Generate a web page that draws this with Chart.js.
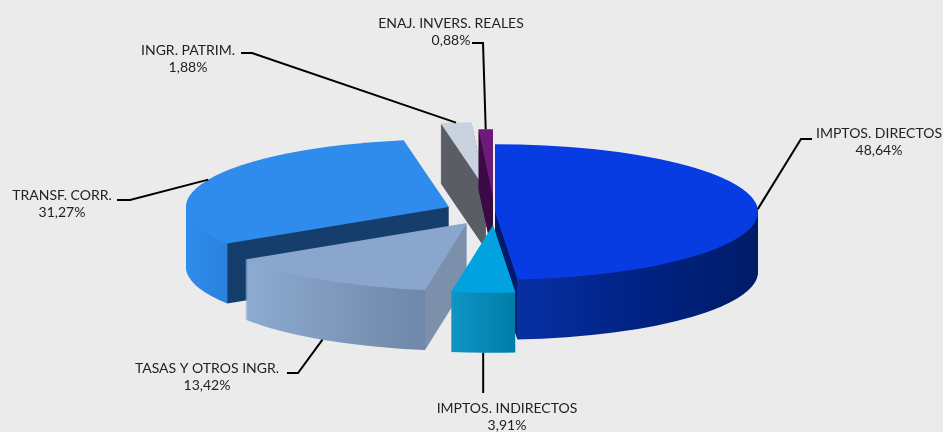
<!DOCTYPE html>
<html>
<head>
<meta charset="utf-8">
<style>
  html, body { margin: 0; padding: 0; background: #ebebeb; overflow: hidden; }
  canvas { display: block; }
</style>
</head>
<body>
<canvas id="chart" width="943" height="432"></canvas>
<script src="https://cdn.jsdelivr.net/npm/chart.js@4/dist/chart.umd.js"></script>
<script>
// datos del grafico
const categories = ['IMPTOS. DIRECTOS', 'IMPTOS. INDIRECTOS', 'TASAS Y OTROS INGR.', 'TRANSF. CORR.', 'INGR. PATRIM.', 'ENAJ. INVERS. REALES'];
const shares = [48.64, 3.91, 13.42, 31.27, 1.88, 0.88];

// colores de cada porcion
const topColors = ['#073ce2', '#00a3e0', '#8aa6cc', '#2f8cec', '#c9d3e0', '#6d1a7a'];
const rimColors = [
  ['#0830a4', '#002284', '#001c68'],
  ['#0f95c6', '#007da8'],
  ['#8dabd0', '#6f87a8'],
  ['#2f8cec', '#2a82dc'],
  ['#5a5d63', '#5a5d63'],
  ['#3a0a45', '#3a0a45']
];
const cutColors = ['#001a6c', '#007da8', '#7c90ab', '#153e6c', '#5a5d63', '#3a0a45'];

// separacion de cada porcion y orden de pintado (de atras hacia delante)
const shiftX = [3, 1, -25, -43, -6, 1];
const shiftY = [0, 13, 11, -5, -22, -15];
const paintOrder = [4, 5, 0, 3, 2, 1];
const squash = 0.258;
const depth = 60;

// rotulos: centro del texto, primera linea, codo de la guia
const callouts = [
  { x: 879, y: 133, elbow: [[812, 139], [801, 139]] },
  { x: 507, y: 408, elbow: [] },
  { x: 207, y: 368, elbow: [[287, 373], [298, 373]] },
  { x: 62, y: 195, elbow: [[117, 200], [130, 200]] },
  { x: 188, y: 50, elbow: [[241, 53], [252, 53]] },
  { x: 451, y: 23, elbow: [[472, 43], [483, 43]] }
];

// el degradado va en coordenadas del arco, sin el desplazamiento de la porcion
function wallFill(ctx, arc, i) {
  const sx = a => arc.x + Math.sin(a) * arc.outerRadius;
  const a0 = Math.max(arc.startAngle + Math.PI / 2, Math.PI / 2);
  const a1 = Math.min(arc.endAngle + Math.PI / 2, Math.PI * 1.5);
  const w = ctx.canvas.width;
  const g = ctx.createLinearGradient(0, 0, w, 0);
  g.addColorStop(0, cutColors[i]);
  if (a1 > a0) {
    const lo = Math.min(sx(a0), sx(a1)) / w;
    const hi = Math.max(sx(a0), sx(a1)) / w;
    g.addColorStop(Math.max(lo - 0.0005, 0), cutColors[i]);
    rimColors[i].forEach((c, n) => {
      g.addColorStop(lo + (hi - lo) * n / (rimColors[i].length - 1), c);
    });
    g.addColorStop(Math.min(hi + 0.0005, 1), cutColors[i]);
  }
  g.addColorStop(1, cutColors[i]);
  return g;
}

// dibuja los arcos del propio Chart.js aplastados y apilados para dar volumen
const pie3d = {
  id: 'pie3d',
  beforeDatasetsDraw(chart) {
    const ctx = chart.ctx;
    const arcs = chart.getDatasetMeta(0).data;
    paintOrder.forEach(i => {
      const arc = arcs[i];
      const original = arc.options;
      const wall = Object.assign({}, original, { backgroundColor: wallFill(ctx, arc, i) });
      for (let d = depth; d >= 0; d--) {
        arc.options = d === 0 ? original : wall;
        ctx.save();
        ctx.translate(arc.x + shiftX[i], arc.y + shiftY[i] + d);
        ctx.scale(1, squash);
        ctx.translate(-arc.x, -arc.y);
        arc.draw(ctx);
        ctx.restore();
      }
      arc.options = original;
    });
    return false;
  },
  afterDraw(chart) {
    const ctx = chart.ctx;
    const arcs = chart.getDatasetMeta(0).data;
    ctx.save();
    ctx.textAlign = 'center';
    ctx.textBaseline = 'middle';
    ctx.font = '14px Lato';
    ctx.letterSpacing = '0px';
    arcs.forEach((arc, i) => {
      const c = callouts[i];
      const mid = (arc.startAngle + arc.endAngle) / 2;
      const front = Math.sin(mid) > 0.5;
      const ax = arc.x + shiftX[i] + Math.cos(mid) * arc.outerRadius;
      const ay = arc.y + shiftY[i] + Math.sin(mid) * arc.outerRadius * squash + (front ? depth : 0);

      // guia
      ctx.beginPath();
      if (c.elbow.length) {
        ctx.moveTo(c.elbow[0][0], c.elbow[0][1]);
        ctx.lineTo(c.elbow[1][0], c.elbow[1][1]);
      } else {
        ctx.moveTo(ax, c.y - 15);
      }
      ctx.lineTo(ax, ay);
      ctx.strokeStyle = '#000';
      ctx.lineWidth = 2;
      ctx.stroke();

      // texto
      ctx.fillStyle = '#222';
      ctx.fillText(categories[i], c.x, c.y);
      ctx.fillText(shares[i].toFixed(2).replace('.', ',') + '%', c.x, c.y + 17);
    });
    ctx.restore();
  }
};

new Chart(document.getElementById('chart'), {
  type: 'pie',
  data: {
    labels: categories,
    datasets: [{
      data: shares,
      backgroundColor: topColors,
      borderWidth: 0
    }]
  },
  options: {
    responsive: false,
    animation: false,
    radius: 263,
    rotation: 0,
    layout: { padding: { left: 41, bottom: 8 } },
    plugins: {
      legend: { display: false },
      tooltip: { enabled: false }
    }
  },
  plugins: [pie3d]
});
</script>
</body>
</html>
